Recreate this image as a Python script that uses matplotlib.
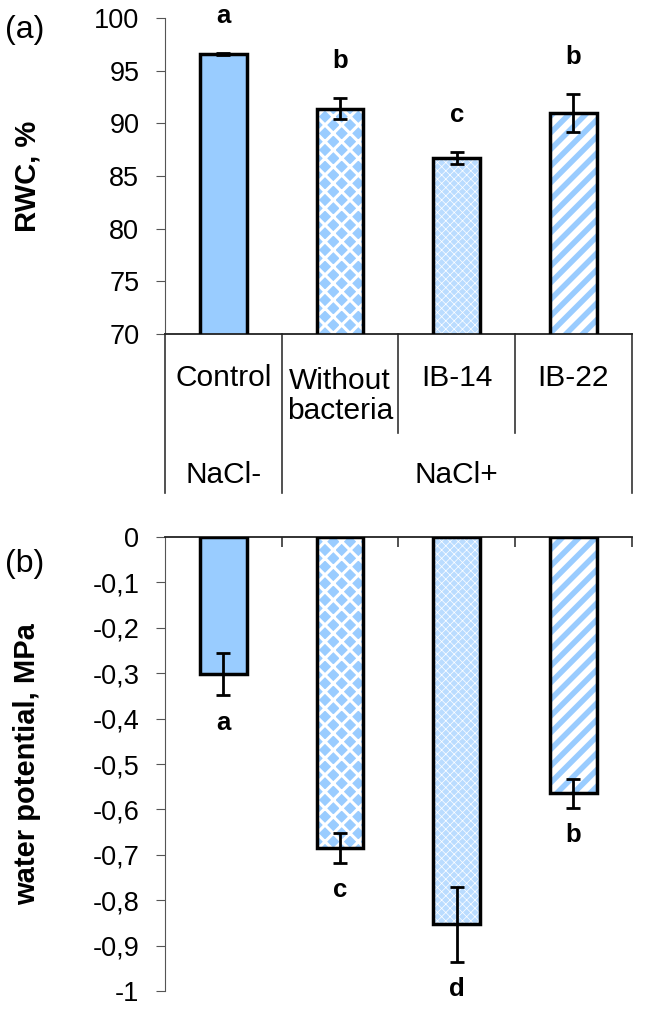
import matplotlib
matplotlib.use("Agg")
import matplotlib.pyplot as plt
import matplotlib.transforms as mtransforms
from matplotlib.ticker import FuncFormatter

plt.rcParams['font.family'] = ['Liberation Sans', 'DejaVu Sans']

# data
categories = ["Control", "Without\nbacteria", "IB-14", "IB-22"]
groups = ["NaCl-", "NaCl+"]
rwc = [96.6, 91.4, 86.7, 91.0]
rwc_err = [0.1, 1.0, 0.6, 1.8]
rwc_letters = ["a", "b", "c", "b"]
wp = [-0.302, -0.685, -0.853, -0.564]
wp_err = [0.047, 0.033, 0.082, 0.032]
wp_letters = ["a", "c", "d", "b"]

# bar styles: facecolor, hatch colour, hatch, hatch linewidth
BLUE = "#99CCFF"
styles = [
    (BLUE, BLUE, None, 1.0),
    (BLUE, "white", "xx", 2.2),
    ("#BADCFF", "white", "xxxx", 0.5),
    ("white", BLUE, "//", 4.0),
]

fig = plt.figure(figsize=(6.46, 10.15), dpi=100)
ax1 = fig.add_axes([0.2554, 0.6709, 0.7226, 0.3114])
ax2 = fig.add_axes([0.2554, 0.0236, 0.7226, 0.4473])

x = list(range(len(categories)))
W = 0.4
TICK_FS = 19.5
CAT_FS = 21.5


def draw_bars(ax, vals, errs):
    for i, v in enumerate(vals):
        face, hc, h, hlw = styles[i]
        with plt.rc_context({'hatch.linewidth': hlw}):
            ax.bar(x[i], v, width=W, color=face, edgecolor=hc, linewidth=0,
                   hatch=h, zorder=2)
    ax.bar(x, vals, width=W, facecolor='none', edgecolor='black',
           linewidth=2.5, zorder=3)
    ax.errorbar(x, vals, yerr=errs, fmt='none', ecolor='black',
                elinewidth=2, capsize=5, capthick=2, zorder=4)


# ---- panel (a)
draw_bars(ax1, rwc, rwc_err)
ax1.set_ylim(70, 100)
ax1.set_xlim(-0.5, 3.5)
ax1.set_yticks(range(70, 101, 5))
ax1.set_xticks([])
for s in ['top', 'right']:
    ax1.spines[s].set_visible(False)
ax1.spines['left'].set_color('#555555')
ax1.spines['bottom'].set_color('#222222')
ax1.spines['bottom'].set_linewidth(1.3)
ax1.tick_params(axis='y', labelsize=TICK_FS, length=6.5, color='#555555',
                pad=12)
ax1.set_ylabel("RWC, %", fontsize=21, fontweight='bold')
ax1.yaxis.set_label_coords(-0.265, 0.5)
for i, v in enumerate(rwc):
    ax1.text(x[i], v + rwc_err[i] + 3.5, rwc_letters[i], ha='center',
             va='center', fontsize=18.5, fontweight='bold', clip_on=False)

trans = mtransforms.blended_transform_factory(ax1.transData, ax1.transAxes)
bounds = [-0.5, 0.5, 1.5, 2.5, 3.5]
depth = [-0.503, -0.503, -0.313, -0.313, -0.503]
for b, d in zip(bounds, depth):
    ax1.plot([b, b], [0, d], color='#333333', lw=1.2, transform=trans,
             clip_on=False)
for i, c in enumerate(categories):
    if "\n" in c:
        ax1.text(x[i], -0.196, c, ha='center', va='center', fontsize=CAT_FS,
                 linespacing=1.05, transform=trans)
    else:
        ax1.text(x[i], -0.140, c, ha='center', va='center', fontsize=CAT_FS,
                 transform=trans)
ax1.text(0, -0.446, groups[0], ha='center', va='center', fontsize=CAT_FS,
         transform=trans)
ax1.text(2, -0.446, groups[1], ha='center', va='center', fontsize=CAT_FS,
         transform=trans)
fig.text(0.008, 0.970, "(a)", fontsize=23, ha='left', va='center')

# ---- panel (b)
draw_bars(ax2, wp, wp_err)
ax2.set_ylim(-1, 0)
ax2.set_xlim(-0.5, 3.5)
ax2.set_yticks([-1 + 0.1 * k for k in range(11)])
ax2.yaxis.set_major_formatter(FuncFormatter(
    lambda v, p: "0" if abs(v) < 1e-9 else ("-1" if abs(v + 1) < 1e-9
                                             else f"{v:.1f}".replace(".", ","))))
ax2.set_xticks([0.5, 1.5, 2.5, 3.5])
ax2.xaxis.set_ticks_position('top')
ax2.tick_params(axis='x', direction='in', length=7, labeltop=False,
                color='#333333', width=1.2)
for s in ['bottom', 'right']:
    ax2.spines[s].set_visible(False)
ax2.spines['left'].set_color('#555555')
ax2.spines['top'].set_color('#222222')
ax2.spines['top'].set_linewidth(1.3)
ax2.tick_params(axis='y', labelsize=TICK_FS, length=6.5, color='#555555',
                pad=12)
ax2.set_ylabel("water potential, MPa", fontsize=21, fontweight='bold')
ax2.yaxis.set_label_coords(-0.265, 0.5)
for i, v in enumerate(wp):
    ax2.text(x[i], v - wp_err[i] - 0.06, wp_letters[i], ha='center',
             va='center', fontsize=18.5, fontweight='bold', clip_on=False)
fig.text(0.008, 0.444, "(b)", fontsize=23, ha='left', va='center')

fig.savefig("out.png", dpi=100)
